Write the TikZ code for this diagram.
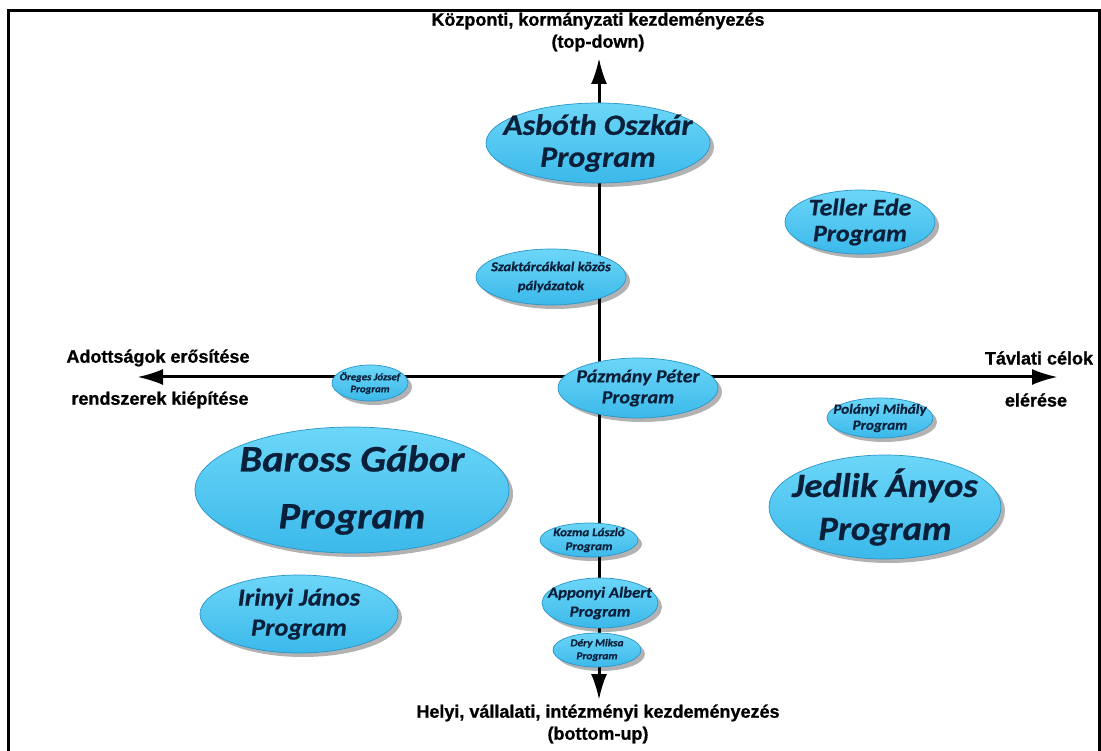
\documentclass[tikz,border=0pt]{standalone}
\usepackage{fontspec}
\usetikzlibrary{shapes.geometric,arrows.meta,shadows}
\newfontfamily\ellfont[FakeStretch=1.08,FakeBold=0.6]{Carlito}
\newfontfamily\lblfont[FakeBold=0.8]{Liberation Sans}
\definecolor{bubtop}{HTML}{6CD6F8}
\definecolor{bubbot}{HTML}{3BB9EA}
\definecolor{bubrim}{HTML}{2A95C8}
\definecolor{txtblue}{HTML}{0A1F3A}
\tikzset{
  bub/.style={ellipse, inner sep=0pt, outer sep=0pt, top color=bubtop, bottom color=bubbot, draw=bubrim, line width=0.7pt,
    drop shadow={shadow xshift=4pt, shadow yshift=-4pt, fill=black, opacity=0.3}},
  btxt/.style={align=center, text=txtblue, inner sep=0pt},
  lbl/.style={align=center, text=black, inner sep=0pt, font=\lblfont\bfseries\fontsize{18}{22}\selectfont},
  axis/.style={line width=3pt, {Latex[length=26pt,width=16pt]}-{Latex[length=26pt,width=16pt]}},
  frame/.style={line width=3pt}
}
\newcommand\bubble[8]{%
  \node[bub, minimum width={2*#4}, minimum height={2*#5}] (#1) at (#2,#3) {};
  \node[btxt, font=\ellfont\bfseries\itshape\fontsize{#6}{#7}\selectfont] (#1-t) at (#2,#3) {#8};
}
\begin{document}
\begin{tikzpicture}[x=1pt,y=-1pt]
\useasboundingbox (0,0) rectangle (1101,751);
% frame
\coordinate (f1) at (8,760);
\coordinate (f2) at (8,11);
\coordinate (f3) at (1099,11);
\coordinate (f4) at (1099,760);
\draw[frame] (f1) -- (f2) -- (f3) -- (f4);
% axes
\coordinate (top) at (599,58);
\coordinate (bot) at (599,700);
\coordinate (lft) at (137,377);
\coordinate (rgt) at (1058,377);
\draw[axis] (bot) -- (top);
\draw[axis] (lft) -- (rgt);
% axis labels
\node[lbl] (ltop) at (598,32) {Központi, kormányzati kezdeményezés\\(top-down)};
\node[lbl] (lbot) at (598,724) {Helyi, vállalati, intézményi kezdeményezés\\(bottom-up)};
\node[lbl] (lleft1) at (158,358) {Adottságok erősítése};
\node[lbl] (lleft2) at (160,400) {rendszerek kiépítése};
\node[lbl] (lright1) at (1039,358) {Távlati célok};
\node[lbl] (lright2) at (1036,400) {elérése};
% bubbles
\bubble{asb}{598}{143}{112}{40}{29.5}{32}{Asbóth Oszkár\\Program}
\bubble{tel}{860}{222}{75}{32}{24}{26}{Teller Ede\\Program}
\bubble{szak}{551}{277}{75}{28}{13.5}{19}{Szaktárcákkal közös\\pályázatok}
\bubble{paz}{638}{388}{80}{30}{18.5}{21}{Pázmány Péter\\Program}
\bubble{ore}{370}{383}{38}{18}{10}{12}{Öreges József\\Program}
\bubble{pol}{880}{418}{53}{20}{14}{16}{Polányi Mihály\\Program}
\bubble{bar}{352}{490}{157}{63}{37.5}{57}{Baross Gábor\\Program}
\bubble{jed}{885}{507}{116}{52}{34}{43}{Jedlik Ányos\\Program}
\bubble{iri}{299}{614}{99}{39}{24.5}{30}{Irinyi János\\Program}
\bubble{koz}{589}{540}{49}{17}{12}{14}{Kozma László\\Program}
\bubble{app}{600}{603}{58}{25}{15.5}{19}{Apponyi Albert\\Program}
\bubble{dery}{597}{650}{44}{17}{10.5}{13}{Déry Miksa\\Program}
\end{tikzpicture}
\end{document}
